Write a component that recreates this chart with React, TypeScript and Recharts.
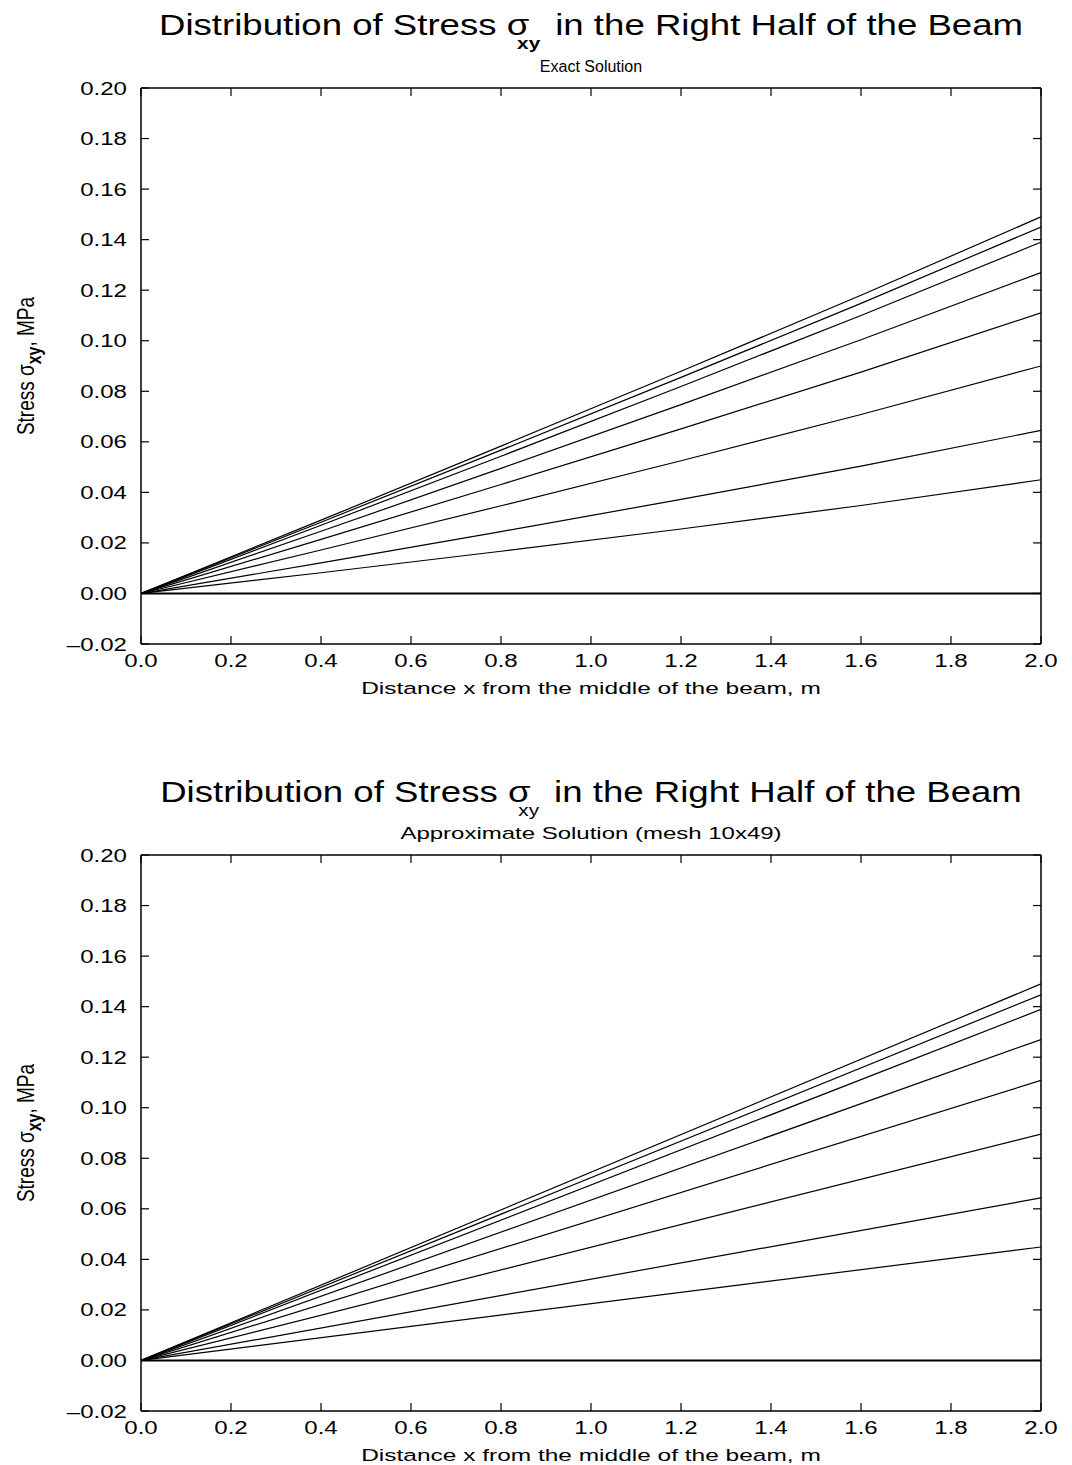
import { LineChart, Line, XAxis, YAxis } from 'recharts'

// readings taken off the exact-solution panel (slightly bowed curves)
const xExact = [0, 0.4, 0.8, 1.2, 1.6, 2.0]
const exactA = [0, 0.029, 0.0583, 0.0879, 0.118, 0.149]
const exactB = [0, 0.0282, 0.0567, 0.0855, 0.1148, 0.145]
const exactC = [0, 0.027, 0.0543, 0.0819, 0.11, 0.139]
const exactD = [0, 0.0246, 0.0495, 0.0747, 0.1004, 0.127]
const exactE = [0, 0.0214, 0.0431, 0.0651, 0.0876, 0.111]
const exactF = [0, 0.0172, 0.0347, 0.0525, 0.0708, 0.09]
const exactG = [0, 0.0121, 0.0245, 0.0372, 0.0504, 0.0645]
const exactH = [0, 0.0082, 0.0167, 0.0255, 0.0348, 0.045]
const exactZero = [0, 0, 0, 0, 0, 0]

// approximate (mesh 10x49) panel: straight lines from the origin
const xApprox = [0, 2.0]
const approxA = [0, 0.149]
const approxB = [0, 0.1447]
const approxC = [0, 0.1389]
const approxD = [0, 0.127]
const approxE = [0, 0.1108]
const approxF = [0, 0.0896]
const approxG = [0, 0.0643]
const approxH = [0, 0.0449]
const approxZero = [0, 0]

const xTicks = [0, 0.2, 0.4, 0.6, 0.8, 1.0, 1.2, 1.4, 1.6, 1.8, 2.0]
const yTicks = [-0.02, 0, 0.02, 0.04, 0.06, 0.08, 0.1, 0.12, 0.14, 0.16, 0.18, 0.2]

const seriesKeys = ['a', 'b', 'c', 'd', 'e', 'f', 'g', 'h', 'z']

function buildRows(xs: number[], series: number[][]) {
  return xs.map((x, i) => {
    const row: Record<string, number> = { x }
    series.forEach((s, k) => { row[seriesKeys[k]] = s[i] })
    return row
  })
}

const exactRows = buildRows(xExact, [exactA, exactB, exactC, exactD, exactE, exactF, exactG, exactH, exactZero])
const approxRows = buildRows(xApprox, [approxA, approxB, approxC, approxD, approxE, approxF, approxG, approxH, approxZero])

const FONT = '"Liberation Sans", Arial, Helvetica, sans-serif'
const STRETCH = 1.3
const frame = { stroke: '#000', strokeWidth: 1.5 }

function fmtY(v: number) {
  const s = Math.abs(v).toFixed(2)
  return v < 0 ? '\u2013' + s : s
}

function AxisTick(props: any) {
  const { x, y, payload, side } = props
  const v = payload.value
  if (side === 'bottom') {
    return (
      <g>
        <line x1={x} y1={y} x2={x} y2={y - 8} stroke="#000" strokeWidth={1.2} />
        <text transform={`translate(${x},${y + 23}) scale(${STRETCH},1)`} textAnchor="middle"
          fontFamily={FONT} fontSize={18.5} fill="#000">{v.toFixed(1)}</text>
      </g>
    )
  }
  if (side === 'top') {
    return <line x1={x} y1={y} x2={x} y2={y + 8} stroke="#000" strokeWidth={1.2} />
  }
  if (side === 'left') {
    return (
      <g>
        <line x1={x} y1={y} x2={x + 8} y2={y} stroke="#000" strokeWidth={1.2} />
        <text transform={`translate(${x - 14},${y + 6.5}) scale(${STRETCH},1)`} textAnchor="end"
          fontFamily={FONT} fontSize={18.5} fill="#000">{fmtY(v)}</text>
      </g>
    )
  }
  return <line x1={x} y1={y} x2={x - 8} y2={y} stroke="#000" strokeWidth={1.2} />
}

interface PanelProps {
  rows: Record<string, number>[]
  height: number
  bottomMargin: number
  subtitle: string
  subScale: number
  boldSub: boolean
  curve: 'monotone' | 'linear'
}

function Panel({ rows, height, bottomMargin, subtitle, subScale, boldSub, curve }: PanelProps) {
  const plotBottom = height - bottomMargin
  return (
    <div style={{ position: 'relative', width: 1072, height }}>
      <LineChart width={1072} height={height} data={rows}
        margin={{ top: 87, left: 140, right: 30, bottom: bottomMargin - 1 }}>
        <XAxis xAxisId="b" dataKey="x" type="number" domain={[0, 2]} ticks={xTicks} interval={0}
          orientation="bottom" height={1} tickSize={0} tickMargin={0} tickLine={false} axisLine={frame}
          tick={(p: any) => <AxisTick {...p} side="bottom" />} allowDataOverflow />
        <XAxis xAxisId="t" dataKey="x" type="number" domain={[0, 2]} ticks={xTicks} interval={0}
          orientation="top" height={1} tickSize={0} tickMargin={0} tickLine={false} axisLine={frame}
          tick={(p: any) => <AxisTick {...p} side="top" />} allowDataOverflow />
        <YAxis yAxisId="l" type="number" domain={[-0.02, 0.2]} ticks={yTicks} interval={0}
          orientation="left" width={1} tickSize={0} tickMargin={0} tickLine={false} axisLine={frame}
          tick={(p: any) => <AxisTick {...p} side="left" />} allowDataOverflow />
        <YAxis yAxisId="r" type="number" domain={[-0.02, 0.2]} ticks={yTicks} interval={0}
          orientation="right" width={1} tickSize={0} tickMargin={0} tickLine={false} axisLine={frame}
          tick={(p: any) => <AxisTick {...p} side="right" />} allowDataOverflow />
        {seriesKeys.map(k => (
          <Line key={k} xAxisId="b" yAxisId="l" dataKey={k} type={curve} stroke="#000"
            strokeWidth={k === 'z' ? 2 : 1.2} dot={false} activeDot={false} isAnimationActive={false} />
        ))}
      </LineChart>

      {/* titles and axis names */}
      <svg width={1072} height={height} style={{ position: 'absolute', left: 0, top: 0, pointerEvents: 'none' }}
        fontFamily={FONT} fill="#000">
        <text transform={`translate(591,35) scale(1.22,1)`} textAnchor="middle" fontSize={30}>
          Distribution of Stress σ
          <tspan dx={-10} dy={14} fontSize={17} fontWeight={boldSub ? 'bold' : 'normal'}>xy</tspan>
          <tspan dx={4} dy={-14}> in the Right Half of the Beam</tspan>
        </text>
        <text transform={`translate(591,72) scale(${subScale},1)`} textAnchor="middle"
          fontSize={16}>{subtitle}</text>
        <text transform={`translate(591,${plotBottom + 50}) scale(1.44,1)`} textAnchor="middle"
          fontSize={17}>Distance x from the middle of the beam, m</text>
        <text transform={`translate(34,${(88 + plotBottom) / 2}) rotate(-90) scale(1,1.3)`}
          textAnchor="middle" fontSize={19}>
          Stress σ
          <tspan dy={5} fontSize={16} fontWeight="bold">xy</tspan>
          <tspan dy={-5}>, MPa</tspan>
        </text>
      </svg>
    </div>
  )
}

export default function App() {
  return (
    <div style={{ position: 'absolute', left: 0, top: 0, width: 1072, height: 1465, background: '#fff' }}>
      <Panel rows={exactRows} height={767} bottomMargin={123} subtitle="Exact Solution" subScale={1.0}
        boldSub curve="monotone" />
      <Panel rows={approxRows} height={698} bottomMargin={54} subtitle="Approximate Solution (mesh 10x49)"
        subScale={1.5} boldSub={false} curve="linear" />
    </div>
  )
}
